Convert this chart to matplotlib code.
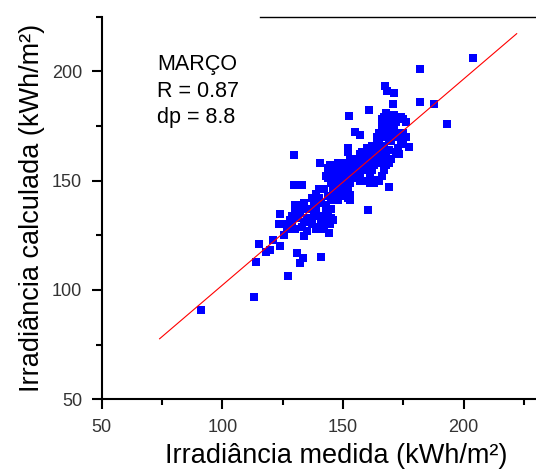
import matplotlib
matplotlib.use("Agg")
import matplotlib.pyplot as plt
from matplotlib.ticker import MultipleLocator
from matplotlib.lines import Line2D
import numpy as np

plt.rcParams['font.family'] = ['Liberation Sans', 'DejaVu Sans']

# measured (x) and calculated (y) irradiance, kWh/m2
medida = [
    91, 113, 114, 115, 118, 119.6, 121, 124, 123.3, 124, 127.2, 125.4, 126.8, 129.8, 129.8, 133,
    131, 132, 133.3, 134, 139, 141, 144.3, 144.7, 160.2, 168.9, 152.4, 160.8, 155.1, 156.9,
    167.5, 168.2, 171, 170.7, 182.1, 182.1, 187.9, 193.2, 203.9, 177.2, 173.2, 161.1, 164.1,
    160, 140.3, 152.4, 153, 144.5,
    # lower band
    128, 129, 130, 131, 132, 130, 131, 133, 134, 135, 133, 136, 137, 138, 136, 139, 140, 141,
    142, 143, 144, 145, 143, 141, 140, 139, 140, 142, 144, 145, 146, 138, 137, 135, 139, 129,
    130, 127, 134, 137, 143, 145, 141, 142, 146,
    # middle band
    146, 147, 148, 149, 150, 151, 152, 150, 148, 147, 149, 151, 152, 153, 154, 155, 153, 152,
    151, 153, 154, 156, 157, 155, 150, 149, 147, 151, 152, 153, 148, 145, 144, 146, 143, 144,
    145, 150, 156, 157, 158, 148, 152, 152, 146,
    # upper band
    156, 157, 158, 159, 160, 161, 162, 163, 164, 165, 160, 159, 161, 162, 163, 164, 165, 166,
    167, 166, 168, 169, 170, 160, 162, 164, 158, 161, 163, 165, 166, 167, 168, 169, 157,
    # top band
    164, 165, 166, 167, 168, 169, 166, 167, 168, 170, 171, 172, 173, 174, 175, 176, 170, 171,
    172, 173, 174, 175, 173, 172, 168, 169, 170, 167, 165, 163, 168, 166, 171, 175, 176, 168,
]
calculada = [
    90.9, 96.7, 113, 121, 117.6, 118.4, 123, 120, 130, 134.7, 106.5, 125.2, 127.8, 161.7, 148.1, 148.1,
    116.8, 112.3, 114.6, 124.8, 128.1, 114.9, 126, 130, 136.7, 147.1, 179.7, 182.5, 172.3, 171,
    193.5, 190.9, 190.1, 185.1, 201.1, 186, 185.1, 175.9, 206.1, 165.2, 162.2, 150.5, 150.5,
    149.7, 158.1, 142, 143.6, 157,
    # lower band
    132, 134, 136, 133, 135, 139, 139, 137, 131, 133, 129, 131, 133, 135, 137, 136, 134, 132,
    133, 131, 135, 137, 139, 140, 142, 144, 146, 146, 143, 141, 145, 139, 130, 127, 129, 131,
    128, 130, 140, 142, 135, 133, 128, 129, 132,
    # middle band
    148, 150, 152, 149, 147, 150, 152, 153, 146, 144, 143, 145, 147, 149, 151, 153, 155, 157,
    158, 160, 156, 155, 157, 158, 155, 156, 157, 144, 142, 141, 141, 149, 151, 153, 152, 156,
    157, 150, 152, 150, 155, 158, 163, 165, 155,
    # upper band
    160, 162, 158, 160, 162, 158, 160, 162, 159, 161, 156, 155, 154, 155, 157, 163, 165, 163,
    160, 158, 162, 164, 160, 165, 166, 167, 163, 149, 149, 150, 152, 155, 157, 158, 153,
    # top band
    170, 172, 174, 175, 176, 177, 178, 179, 178, 176, 175, 177, 178, 179, 178, 177, 173, 171,
    172, 170, 168, 167, 165, 163, 170, 168, 168, 166, 168, 166, 181, 176, 180, 172, 170, 173,
]

# fitted line
fit_x = [74, 222]
fit_slope = 0.943
fit_intercept = 7.9

annot_lines = ["MARÇO", "R = 0.87", "dp = 8.8"]

fig = plt.figure(figsize=(5.36, 4.75), dpi=100)
ax = fig.add_axes([0.1897, 0.1594, 0.8103, 0.8054])

ax.scatter(medida, calculada, marker='s', s=32, color='#0000ff', linewidths=0, zorder=2)
fx = np.array(fit_x, dtype=float)
ax.plot(fx, fit_intercept + fit_slope * fx, color='#ff0000', lw=0.8, zorder=3)

ax.set_xlim(50, 230)
ax.set_ylim(50, 225)
ax.xaxis.set_major_locator(MultipleLocator(50))
ax.xaxis.set_minor_locator(MultipleLocator(25))
ax.yaxis.set_major_locator(MultipleLocator(50))
ax.yaxis.set_minor_locator(MultipleLocator(25))

for s in ['top', 'right']:
    ax.spines[s].set_visible(False)
for s in ['left', 'bottom']:
    ax.spines[s].set_linewidth(1.5)
    ax.spines[s].set_color('black')

# partial top frame line
ax.add_line(Line2D([0.3645, 1.0], [1.0, 1.0], transform=ax.transAxes, color='black',
                   lw=1.0, clip_on=False))

ax.tick_params(which='major', direction='out', length=7, width=1.5, pad=7,
               labelsize=13, labelcolor='#333333')
ax.tick_params(which='minor', direction='out', length=4.5, width=1.5)

ax.set_xlabel("Irradiância medida (kWh/m²)", fontsize=19.5)
ax.set_ylabel("Irradiância calculada (kWh/m²)", fontsize=19.5)
ax.xaxis.set_label_coords(0.54, -0.115)
ax.yaxis.set_label_coords(-0.13, 0.5)

ax.text(0.127, 0.902, "\n".join(annot_lines), transform=ax.transAxes, fontsize=15.5,
        va='top', ha='left', linespacing=1.35)

fig.savefig("out.png", dpi=100)
